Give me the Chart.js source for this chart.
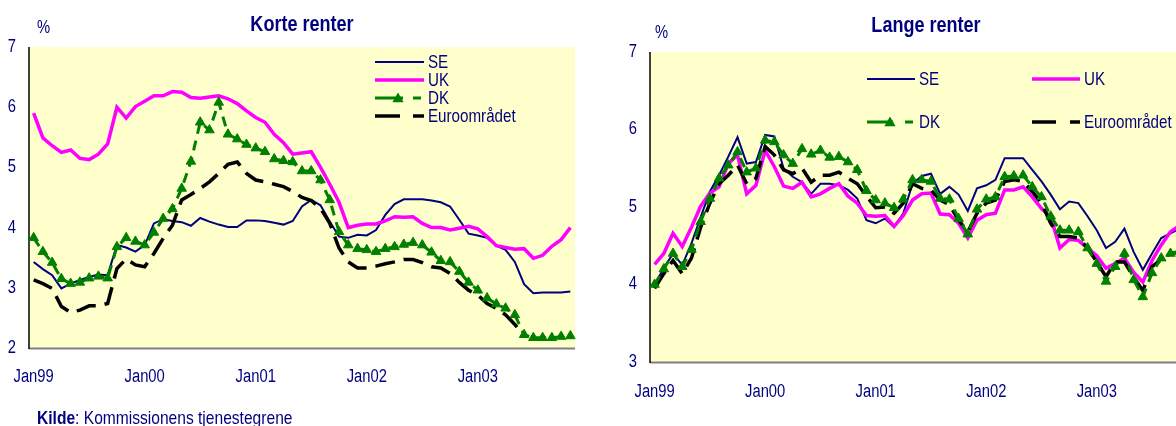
<!DOCTYPE html>
<html>
<head>
<meta charset="utf-8">
<script src="https://cdn.jsdelivr.net/npm/chart.js@4.4.1/dist/chart.umd.min.js"></script>
<style>
  html, body { margin: 0; padding: 0; background: #ffffff; width: 1176px; height: 426px; overflow: hidden; }
  .pane { position: absolute; top: 0; height: 426px; }
  .pane canvas { position: absolute; left: 0; top: 0; }
  .txt { position: absolute; line-height: 1; white-space: nowrap; color: #000080;
         font-family: 'Liberation Sans', Arial, sans-serif; }
  .title { font-weight: bold; font-size: 22px; transform: translateX(-50%) scaleX(0.82); }
  .unit { font-size: 18px; transform-origin: 0 0; transform: scaleX(0.82); }
  .source { font-size: 19px; transform-origin: 0 0; transform: scaleX(0.82); }
</style>
</head>
<body>
<div class="pane" id="paneShort" style="left:0;width:590px;">
  <canvas id="shortRates" width="590" height="426"></canvas>
</div>
<div class="pane" id="paneLong" style="left:600px;width:600px;">
  <canvas id="longRates" width="600" height="426"></canvas>
</div>

<div class="txt title" style="left:302px;top:13px;">Korte renter</div>
<div class="txt unit" style="left:37px;top:18px;">%</div>
<div class="txt title" style="left:926px;top:14px;">Lange renter</div>
<div class="txt unit" style="left:655px;top:23px;">%</div>
<div class="txt source" style="left:37px;top:408px;"><b>Kilde</b>: Kommissionens tjenestegrene</div>

<script>
// Monthly observations, January 1999 to November 2003
const monthNames = ['Jan', 'Feb', 'Mar', 'Apr', 'Maj', 'Jun', 'Jul', 'Aug', 'Sep', 'Okt', 'Nov', 'Dec'];
const yearCodes = ['99', '00', '01', '02', '03'];
const categories = [];
yearCodes.forEach(y => monthNames.forEach(m => categories.push(m + y)));
categories.length = 59;

const tickLabels = ['Jan99', 'Jan00', 'Jan01', 'Jan02', 'Jan03'];
const shortAxis = { min: 2, max: 7, step: 1 };
const longAxis = { min: 3, max: 7, step: 1 };

// Korte renter (3-month rates, %)
const seShort = [3.43, 3.31, 3.21, 2.99, 3.07, 3.13, 3.18, 3.22, 3.21, 3.71, 3.67, 3.60,
                 3.71, 4.07, 4.14, 4.11, 4.09, 4.03, 4.16, 4.10, 4.05, 4.01, 4.01, 4.12,
                 4.12, 4.11, 4.08, 4.05, 4.11, 4.35, 4.46, 4.37, 4.10, 3.85, 3.83, 3.88,
                 3.87, 3.96, 4.21, 4.39, 4.47, 4.47, 4.47, 4.45, 4.42, 4.35, 4.13, 3.90,
                 3.87, 3.83, 3.70, 3.63, 3.43, 3.06, 2.91, 2.92, 2.92, 2.92, 2.94];
const ukShort = [5.90, 5.49, 5.36, 5.25, 5.29, 5.15, 5.13, 5.22, 5.39, 6.00, 5.82, 6.01,
                 6.10, 6.19, 6.19, 6.26, 6.25, 6.16, 6.15, 6.17, 6.19, 6.14, 6.06, 5.94,
                 5.83, 5.75, 5.55, 5.41, 5.22, 5.24, 5.26, 5.00, 4.72, 4.42, 4.00, 4.04,
                 4.06, 4.06, 4.11, 4.18, 4.17, 4.18, 4.07, 4.00, 4.00, 3.96, 3.99, 4.02,
                 3.98, 3.85, 3.70, 3.67, 3.64, 3.65, 3.49, 3.54, 3.69, 3.80, 4.00];
const dkShort = [3.83, 3.60, 3.42, 3.15, 3.07, 3.09, 3.16, 3.19, 3.16, 3.68, 3.83, 3.77,
                 3.71, 3.92, 4.15, 4.31, 4.65, 5.10, 5.75, 5.62, 6.08, 5.55, 5.47, 5.38,
                 5.32, 5.26, 5.14, 5.11, 5.09, 4.94, 4.94, 4.79, 4.46, 3.93, 3.71, 3.65,
                 3.63, 3.60, 3.65, 3.68, 3.72, 3.75, 3.71, 3.59, 3.45, 3.43, 3.27, 3.09,
                 2.96, 2.83, 2.73, 2.66, 2.55, 2.22, 2.17, 2.17, 2.17, 2.19, 2.20];
const euShort = [3.13, 3.07, 2.99, 2.69, 2.59, 2.63, 2.70, 2.70, 2.74, 3.32, 3.48, 3.38,
                 3.35, 3.57, 3.82, 4.04, 4.46, 4.55, 4.65, 4.76, 4.90, 5.05, 5.09, 4.90,
                 4.79, 4.76, 4.72, 4.68, 4.60, 4.50, 4.45, 4.32, 4.07, 3.66, 3.43, 3.33,
                 3.33, 3.36, 3.40, 3.43, 3.47, 3.47, 3.42, 3.35, 3.33, 3.24, 3.09, 2.96,
                 2.88, 2.74, 2.66, 2.55, 2.39, 2.20, null, null, null, null, null];

// Lange renter (10-year yields, %)
const seLong = [4.00, 4.21, 4.40, 4.25, 4.53, 4.87, 5.20, 5.41, 5.65, 5.90, 5.56, 5.58,
                5.93, 5.91, 5.50, 5.39, 5.32, 5.17, 5.30, 5.30, 5.28, 5.22, 5.11, 4.83,
                4.79, 4.85, 4.74, 4.92, 5.30, 5.40, 5.43, 5.17, 5.26, 5.16, 4.95, 5.24,
                5.28, 5.35, 5.63, 5.63, 5.63, 5.48, 5.33, 5.16, 4.97, 5.07, 5.05, 4.88,
                4.70, 4.47, 4.55, 4.72, 4.42, 4.19, 4.40, 4.60, 4.66, 4.72, 4.78];
const ukLong = [4.26, 4.40, 4.66, 4.49, 4.74, 5.01, 5.18, 5.26, 5.56, 5.67, 5.17, 5.28,
                5.73, 5.52, 5.27, 5.24, 5.32, 5.13, 5.17, 5.24, 5.30, 5.14, 5.05, 4.89,
                4.88, 4.89, 4.75, 4.89, 5.09, 5.17, 5.18, 4.91, 4.90, 4.79, 4.60, 4.83,
                4.90, 4.92, 5.22, 5.22, 5.26, 5.13, 4.98, 4.87, 4.47, 4.58, 4.57, 4.47,
                4.37, 4.21, 4.27, 4.34, 4.16, 4.03, 4.31, 4.51, 4.68, 4.76, 4.82];
const dkLong = [4.00, 4.20, 4.40, 4.23, 4.45, 4.81, 5.11, 5.37, 5.54, 5.71, 5.45, 5.50,
                5.86, 5.84, 5.67, 5.56, 5.75, 5.68, 5.73, 5.64, 5.65, 5.58, 5.48, 5.21,
                5.09, 5.05, 4.99, 5.10, 5.35, 5.35, 5.33, 5.11, 5.10, 4.85, 4.65, 4.97,
                5.10, 5.13, 5.39, 5.40, 5.41, 5.26, 5.13, 4.88, 4.70, 4.70, 4.68, 4.47,
                4.27, 4.04, 4.23, 4.40, 4.06, 3.84, 4.15, 4.34, 4.40, 4.43, 4.47];
const euLong = [3.95, 4.14, 4.31, 4.14, 4.34, 4.74, 5.05, 5.30, 5.41, 5.54, 5.30, 5.37,
                5.78, 5.67, 5.48, 5.43, 5.50, 5.32, 5.41, 5.41, 5.45, 5.37, 5.30, 5.14,
                4.99, 5.00, 4.92, 5.05, 5.30, 5.24, 5.22, 5.09, 5.03, 4.83, 4.68, 4.92,
                5.05, 5.09, 5.33, 5.35, 5.33, 5.20, 5.05, 4.79, 4.62, 4.62, 4.60, 4.47,
                4.29, 4.10, 4.29, 4.29, 4.10, 3.92, 4.23, 4.32, 4.40, 4.42, 4.45];

const FONT = "'Liberation Sans', Arial, sans-serif";
const SQUEEZE = 0.82;          // horizontal compression of all chart lettering
const NAVY = '#000080';
const PLOT_BG = '#FFFFCC';

const seriesStyle = {
  SE: { color: '#000080', width: 2 },
  UK: { color: '#FF00FF', width: 3.5 },
  DK: { color: '#008000', width: 3, dash: [10, 7] },
  EU: { color: '#000000', width: 3.5, dash: [20, 9] }
};

function narrowText(ctx, text, x, y, align, size, weight) {
  ctx.save();
  ctx.font = (weight ? weight + ' ' : '') + size + 'px ' + FONT;
  ctx.fillStyle = NAVY;
  ctx.textBaseline = 'middle';
  ctx.textAlign = align;
  ctx.translate(x, y);
  ctx.scale(SQUEEZE, 1);
  ctx.fillText(text, 0, 0);
  ctx.restore();
}

// Plot background and the two axis lines
const framePlugin = {
  id: 'frame',
  beforeDatasetsDraw(chart) {
    const { ctx, chartArea: a } = chart;
    ctx.save();
    ctx.fillStyle = PLOT_BG;
    ctx.fillRect(a.left, a.top, a.right - a.left, a.bottom - a.top);
    ctx.lineWidth = 2;
    ctx.strokeStyle = '#808080';
    ctx.beginPath();
    ctx.moveTo(a.left, a.bottom + 0.5);
    ctx.lineTo(a.right, a.bottom + 0.5);
    ctx.stroke();
    ctx.lineWidth = 1.5;
    ctx.strokeStyle = '#000000';
    ctx.beginPath();
    ctx.moveTo(a.left, a.top);
    ctx.lineTo(a.left, a.bottom + 1);
    ctx.stroke();
    ctx.restore();
  }
};

// Tick labels placed through the chart's own scales
const tickText = {
  id: 'tickText',
  afterDraw(chart, args, opts) {
    const { ctx, chartArea: a, scales } = chart;
    scales.y.ticks.forEach(t => {
      narrowText(ctx, String(t.value), a.left - 13, scales.y.getPixelForValue(t.value), 'right', 18);
    });
    tickLabels.forEach(lab => {
      const idx = categories.indexOf(lab);
      if (idx >= 0) narrowText(ctx, lab, scales.x.getPixelForValue(idx), a.bottom + opts.xOffset, 'center', 18);
    });
  }
};

function drawTriangle(ctx, x, y, r, color) {
  ctx.save();
  ctx.setLineDash([]);
  ctx.fillStyle = color;
  ctx.beginPath();
  for (let k = 0; k < 3; k++) {
    const ang = k * 2 * Math.PI / 3;
    const px = x + Math.sin(ang) * r;
    const py = y - Math.cos(ang) * r;
    if (k === 0) ctx.moveTo(px, py); else ctx.lineTo(px, py);
  }
  ctx.closePath();
  ctx.fill();
  ctx.restore();
}

// Legend with line samples drawn inside the plot area
const sampleLegend = {
  id: 'sampleLegend',
  afterDatasetsDraw(chart, args, opts) {
    const ctx = chart.ctx;
    ctx.save();
    opts.items.forEach(it => {
      const st = seriesStyle[it.key];
      ctx.beginPath();
      ctx.setLineDash(it.dash || []);
      ctx.lineWidth = st.width;
      ctx.strokeStyle = st.color;
      ctx.moveTo(it.x0, it.y);
      ctx.lineTo(it.x1, it.y);
      ctx.stroke();
      ctx.setLineDash([]);
      if (it.marker !== undefined) drawTriangle(ctx, it.marker, it.y + 1, 6.5, st.color);
      narrowText(ctx, it.text, it.x1 + 4, it.y + 1, 'left', 18.5);
    });
    ctx.restore();
  }
};

function buildChart(canvasId, series, axis, geom, legendItems) {
  const datasets = [
    { label: 'SE', data: series.se, borderColor: seriesStyle.SE.color, borderWidth: seriesStyle.SE.width,
      pointRadius: 0, order: 3 },
    { label: 'UK', data: series.uk, borderColor: seriesStyle.UK.color, borderWidth: seriesStyle.UK.width,
      pointRadius: 0, order: 2 },
    { label: 'DK', data: series.dk, borderColor: seriesStyle.DK.color, borderWidth: seriesStyle.DK.width,
      borderDash: seriesStyle.DK.dash, pointStyle: 'triangle', pointRadius: 5.5,
      pointBackgroundColor: seriesStyle.DK.color, pointBorderColor: seriesStyle.DK.color,
      pointBorderWidth: 1, order: 0 },
    { label: 'Euroområdet', data: series.eu, borderColor: seriesStyle.EU.color, borderWidth: seriesStyle.EU.width,
      borderDash: seriesStyle.EU.dash, pointRadius: 0, order: 1 }
  ];
  datasets.forEach(d => { d.fill = false; d.tension = 0; d.spanGaps = false; d.borderCapStyle = 'butt'; });

  return new Chart(document.getElementById(canvasId), {
    type: 'line',
    data: { labels: categories, datasets },
    plugins: [framePlugin, sampleLegend, tickText],
    options: {
      responsive: false,
      animation: false,
      events: [],
      layout: { padding: geom.padding },
      plugins: {
        legend: { display: false },
        title: { display: false },
        tooltip: { enabled: false },
        sampleLegend: { items: legendItems },
        tickText: { xOffset: geom.xOffset }
      },
      scales: {
        x: {
          type: 'category',
          offset: true,
          grid: { display: false, drawTicks: false },
          border: { display: false },
          ticks: { display: false, autoSkip: false, maxRotation: 0, minRotation: 0 },
          afterFit(s) { s.height = 50; s.paddingLeft = 0; s.paddingRight = 0; }
        },
        y: {
          min: axis.min, max: axis.max,
          grid: { display: false, drawTicks: false },
          border: { display: false },
          ticks: { display: false, stepSize: axis.step },
          afterFit(s) { s.width = geom.yWidth; s.paddingTop = 0; s.paddingBottom = 0; }
        }
      }
    }
  });
}

buildChart('shortRates',
  { se: seShort, uk: ukShort, dk: dkShort, eu: euShort },
  shortAxis,
  { padding: { top: 47, right: 15, bottom: 28, left: 0 }, xOffset: 29, yWidth: 29 },
  [
    { key: 'SE', text: 'SE', x0: 375, x1: 424, y: 62 },
    { key: 'UK', text: 'UK', x0: 375, x1: 424, y: 80 },
    { key: 'DK', text: 'DK', x0: 375, x1: 424, y: 98, dash: [28, 10, 8, 100], marker: 398 },
    { key: 'EU', text: 'Euroområdet', x0: 375, x1: 424, y: 116, dash: [25, 13, 11, 100] }
  ]);

buildChart('longRates',
  { se: seLong, uk: ukLong, dk: dkLong, eu: euLong },
  longAxis,
  { padding: { top: 52, right: 4, bottom: 14, left: 0 }, xOffset: 30, yWidth: 50 },
  [
    { key: 'SE', text: 'SE', x0: 267, x1: 315, y: 79 },
    { key: 'UK', text: 'UK', x0: 432, x1: 480, y: 79 },
    { key: 'DK', text: 'DK', x0: 267, x1: 315, y: 122, dash: [26, 12, 8, 100], marker: 290 },
    { key: 'EU', text: 'Euroområdet', x0: 432, x1: 480, y: 122, dash: [24, 14, 10, 100] }
  ]);
</script>
</body>
</html>
